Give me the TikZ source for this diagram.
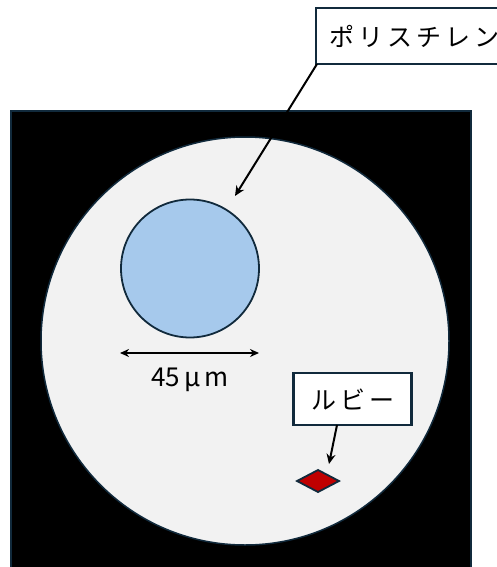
\documentclass[tikz,border=0pt]{standalone}
\usepackage{fontspec}
\newfontfamily\jp[LetterSpace=16]{Noto Sans CJK JP}
\newfontfamily\jpn{Noto Sans CJK JP}
\usetikzlibrary{arrows.meta}
\definecolor{edge}{HTML}{112A3C}
\definecolor{bgfill}{HTML}{F2F2F2}
\definecolor{pblue}{HTML}{A6C9EC}
\definecolor{ruby}{HTML}{C00000}
\tikzset{
  lbl/.style={draw=edge, line width=2.4pt, fill=white, inner sep=0pt},
  pointer/.style={line width=2pt, -{Stealth[length=10pt,width=9pt]}},
}
\begin{document}
\begin{tikzpicture}[x=1pt,y=-1pt]
\useasboundingbox (0,0) rectangle (497,567);
\fill[white] (0,0) rectangle (497,567);
% black sample chamber
\draw[edge, line width=1.5pt, fill=black] (11,111) rectangle (471,600);
% inner well
\node[circle, draw=edge, line width=1.5pt, fill=bgfill, minimum size=408pt, inner sep=0pt] (well) at (245,341) {};
% polystyrene bead
\node[circle, draw=edge, line width=1.8pt, fill=pblue, minimum size=138pt, inner sep=0pt] (bead) at (190,268.5) {};
% scale arrow
\coordinate (sl) at (120,353);
\coordinate (sr) at (259,353);
\draw[line width=2pt, {Stealth[length=9pt,width=8pt]}-{Stealth[length=9pt,width=8pt]}] (sl) -- (sr);
\node[font=\jpn\fontsize{26}{28}\selectfont, anchor=center] (scale) at (190,380) {45\,μ\,m};
% polystyrene label
\draw[lbl] (316,8) rectangle (540,64);
\node[font=\jp\fontsize{25}{27}\selectfont, anchor=west, inner sep=0pt] (pstext) at (329,36.5) {ポリスチレン};
\coordinate (psc) at (317,64);
\coordinate (pstip) at (235,196);
\draw[pointer] (psc) -- (pstip);
% ruby label
\node[lbl, minimum width=118pt, minimum height=52pt, font=\jp\fontsize{25}{27}\selectfont] (rubylbl) at (352.5,399) {ルビー};
\coordinate (rs) at (337,425);
\coordinate (rt) at (329,464);
\draw[pointer] (rs) -- (rt);
% ruby crystal
\draw[edge, line width=1.8pt, fill=ruby] (297,481) -- (318,470) -- (339,481) -- (318,492) -- cycle;
\end{tikzpicture}
\end{document}
